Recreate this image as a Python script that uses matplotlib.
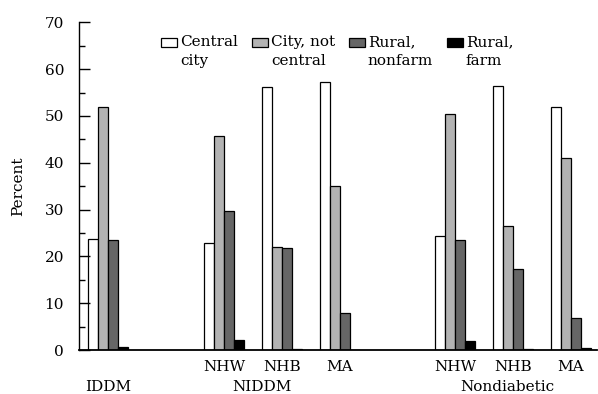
import numpy as np
import matplotlib.pyplot as plt
from matplotlib.patches import Patch, Rectangle
from matplotlib.legend_handler import HandlerPatch

plt.rcParams['font.family'] = ['DejaVu Serif']

# Données
groups = ["IDDM", "NIDDM", "Nondiabetic"]
subgroups = [[""], ["NHW", "NHB", "MA"], ["NHW", "NHB", "MA"]]
series_names = ["Central\ncity", "City, not\ncentral", "Rural,\nnonfarm", "Rural,\nfarm"]
central_city = [23.8, 22.9, 56.1, 57.3, 24.4, 56.4, 51.9]
city_not_central = [52.0, 45.7, 22.0, 35.0, 50.4, 26.4, 41.1]
rural_nonfarm = [23.5, 29.6, 21.7, 7.8, 23.5, 17.3, 6.8]
rural_farm = [0.7, 2.1, 0.3, 0.0, 1.9, 0.2, 0.5]

series = [central_city, city_not_central, rural_nonfarm, rural_farm]
colors = ["white", "#b3b3b3", "#666666", "black"]

# Positions : un emplacement vide entre les groupes
slots = []
labels = []
pos = 0
for subs in subgroups:
    for s in subs:
        slots.append(pos)
        labels.append(s)
        pos += 1
    pos += 1
slots = np.array(slots, dtype=float)

fig = plt.figure(figsize=(5.98, 3.94), dpi=100)
ax = fig.add_axes([79.3 / 598, 44 / 394, (597 - 79.3) / 598, 327.7 / 394])

w = 0.173
for i, (vals, c) in enumerate(zip(series, colors)):
    ax.bar(slots + (i - 1.5) * w, vals, width=w, color=c,
           edgecolor="black", linewidth=0.9)

ax.set_xlim(-0.502, 8.455)
ax.set_ylim(0, 70)
ax.set_yticks(np.arange(0, 71, 10))
ax.set_yticks(np.arange(5, 70, 10), minor=True)
ax.tick_params(axis="y", which="major", direction="in", length=8, width=1, pad=11, labelsize=11)
ax.tick_params(axis="y", which="minor", direction="in", length=4, width=1)
ax.set_xticks(slots)
ax.set_xticklabels(labels, fontsize=11)
ax.tick_params(axis="x", length=0, pad=7)

for sp in ["top", "right"]:
    ax.spines[sp].set_visible(False)
ax.spines["bottom"].set_linewidth(1.3)
ax.spines["left"].set_linewidth(1)

ax.set_ylabel("Percent", fontsize=11, labelpad=14)

# Étiquettes des groupes
group_label_x = [0.0, 2.65, 6.9]
for name, gx in zip(groups, group_label_x):
    ax.text(gx, -37 / 327.7, name, transform=ax.get_xaxis_transform(),
            ha="center", va="center", fontsize=11)

# Légende : carré aligné sur la première ligne
line_gap = 6.5  # points


def top_patch(legend, orig_handle, xdescent, ydescent, width, height, fontsize):
    return Rectangle((-xdescent, -ydescent + line_gap), width, height)


handles = [Patch(facecolor=c, edgecolor="black", linewidth=0.9) for c in colors]
leg = fig.legend(handles, series_names, loc="upper left", ncol=4,
                 bbox_to_anchor=(161 / 598, 1 - 35 / 394), bbox_transform=fig.transFigure,
                 frameon=False, fontsize=11, handlelength=1.05, handleheight=0.5,
                 handletextpad=0.2, columnspacing=0.9, borderpad=0, borderaxespad=0,
                 labelspacing=0,
                 handler_map={Patch: HandlerPatch(patch_func=top_patch)})
for t in leg.get_texts():
    t.set_linespacing(1.45)

fig.savefig("out.png", dpi=100)
